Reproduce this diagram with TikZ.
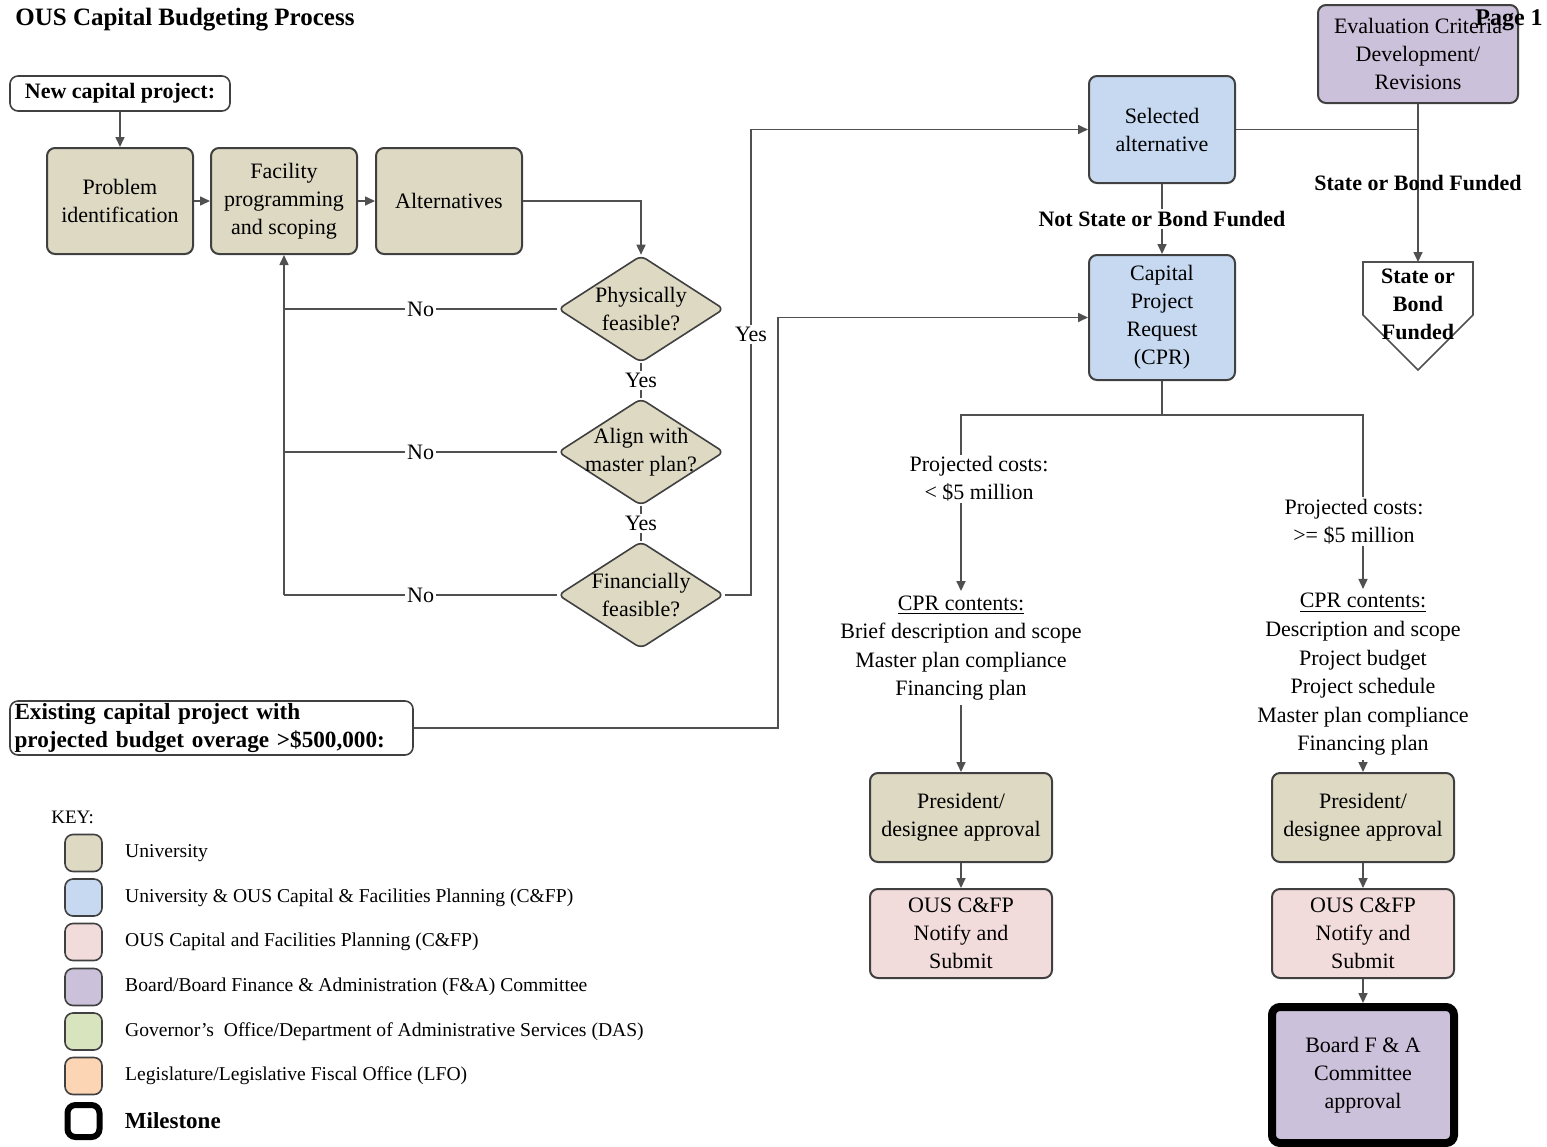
\documentclass[tikz,border=0pt]{standalone}
\usepackage{fontspec}
\setmainfont{Liberation Serif}
\usetikzlibrary{positioning, calc, shapes.geometric, arrows.meta}
\definecolor{univtan}{RGB}{221,217,195}
\definecolor{cfpblue}{RGB}{198,217,241}
\definecolor{cfppink}{RGB}{242,220,219}
\definecolor{boardpurple}{RGB}{204,193,218}
\definecolor{govgreen}{RGB}{215,228,189}
\definecolor{legorange}{RGB}{252,213,181}
\definecolor{edgegray}{RGB}{64,64,64}
\definecolor{linegray}{RGB}{80,80,80}

\begin{document}
\begin{tikzpicture}[
        x=0.5pt, y=-0.5pt,
        font=\fontsize{11}{14}\selectfont,
        box/.style={rectangle, draw=edgegray, line width=1pt, rounded corners=4pt, align=center, minimum width=73pt, minimum height=53pt, inner sep=1pt},
        univ/.style={box, fill=univtan},
        joint/.style={box, fill=cfpblue},
        ous/.style={box, fill=cfppink},
        board/.style={box, fill=boardpurple},
        decision/.style={diamond, draw=edgegray, line width=0.8pt, fill=univtan, minimum width=83pt, minimum height=53.5pt, inner sep=0pt, rounded corners=3pt},
        startbox/.style={rectangle, draw=edgegray, line width=0.8pt, rounded corners=4pt, fill=white, font=\fontsize{11}{14}\selectfont\bfseries, inner sep=1pt},
        line/.style={draw=linegray, line width=0.8pt},
        arrow/.style={line, -{Triangle[length=5pt, width=4.5pt]}},
        lbl/.style={fill=white, inner sep=1pt, align=center},
        boldlbl/.style={inner sep=1pt, align=center, font=\fontsize{11}{14}\selectfont\bfseries},
        keybox/.style={rectangle, draw=edgegray, line width=0.8pt, rounded corners=4pt, minimum size=18.5pt, inner sep=0pt},
        keytxt/.style={anchor=west, font=\fontsize{9.8}{11}\selectfont, inner sep=0pt}
    ]
        \useasboundingbox (0,0) rectangle (1547,1146);

        % Title
        \node[anchor=west, font=\fontsize{12.5}{14}\selectfont\bfseries, inner sep=0pt] (TITLE) at (15,20) {OUS Capital Budgeting Process};

        % New project path
        \node[startbox, minimum width=110pt, minimum height=17.5pt] (NEW_CAP) at (120,93.5) {New capital project:};
        \node[univ] (PROB_ID) at (120,201) {Problem\\identification};
        \node[univ] (FAC_PROG) at (284,201) {Facility\\programming\\and scoping};
        \node[univ] (ALTS) at (449,201) {Alternatives};

        % Decisions
        \node[decision, label={[align=center]center:{Physically\\feasible?}}] (PHYS) at (641,309) {};
        \node[decision, label={[align=center]center:{Align with\\master plan?}}] (ALIGN) at (641,452) {};
        \node[decision, label={[align=center]center:{Financially\\feasible?}}] (FIN) at (641,595) {};

        % Selection and request
        \node[joint, minimum height=53.5pt] (SEL_ALT) at (1162,129.5) {Selected\\alternative};
        \node[joint, minimum height=62.5pt] (CPR) at (1162,317.5) {Capital\\Project\\Request\\(CPR)};
        \node[board, minimum width=100pt, minimum height=49pt] (EVAL) at (1418,54) {Evaluation Criteria\\Development/\\Revisions};

        % Off-page connector
        \coordinate (SBF_TOP) at (1418,262);
        \draw[line, fill=white] (1363,262) -- (1473,262) -- (1473,315) -- (1418,370) -- (1363,315) -- cycle;
        \node[boldlbl] (SBF) at (1418,304) {State or\\Bond\\Funded};

        % Existing project
        \node[startbox, font=\fontsize{11.6}{14}\selectfont\bfseries, minimum width=201.5pt, minimum height=27pt, text width=197pt, align=left, inner ysep=0pt] (EXIST) at (211.5,728) {Existing capital project with\\projected budget overage >\$500,000:};

        % CPR contents
        \node[align=center, inner sep=2pt, font=\fontsize{11}{14.3}\selectfont] (LO_CONT) at (961,648) {\underline{CPR contents:}\\Brief description and scope\\Master plan compliance\\Financing plan};
        \node[align=center, inner sep=2pt, font=\fontsize{11}{14.3}\selectfont] (HI_CONT) at (1363,674.5) {\underline{CPR contents:}\\Description and scope\\Project budget\\Project schedule\\Master plan compliance\\Financing plan};

        % Approvals
        \node[univ, minimum width=91pt, minimum height=44.5pt] (LO_PRES) at (961,817.5) {President/\\designee approval};
        \node[ous, minimum width=91pt, minimum height=44.5pt] (LO_OUS) at (961,933.5) {OUS C\&FP\\Notify and\\Submit};
        \node[univ, minimum width=91pt, minimum height=44.5pt] (HI_PRES) at (1363,817.5) {President/\\designee approval};
        \node[ous, minimum width=91pt, minimum height=44.5pt] (HI_OUS) at (1363,933.5) {OUS C\&FP\\Notify and\\Submit};
        \node[board, draw=black, line width=4pt, minimum width=91pt, minimum height=68pt] (BOARD) at (1363,1075) {Board F \& A\\Committee\\approval};

        % Flow
        \draw[arrow] (NEW_CAP) -- (PROB_ID);
        \draw[arrow] (PROB_ID) -- (FAC_PROG);
        \draw[arrow] (FAC_PROG) -- (ALTS);
        \draw[arrow] (ALTS.east) -| (PHYS.north);
        \draw[line] (PHYS.south) -- node[lbl]{Yes} (ALIGN.north);
        \draw[line] (ALIGN.south) -- node[lbl]{Yes} (FIN.north);
        \draw[line] (PHYS.west) -- node[lbl]{No} (PHYS.west -| FAC_PROG.south);
        \draw[line] (ALIGN.west) -- node[lbl]{No} (ALIGN.west -| FAC_PROG.south);
        \draw[line] (FIN.west) -- node[lbl]{No} (FIN.west -| FAC_PROG.south);
        \draw[arrow] (FIN.west -| FAC_PROG.south) -- (FAC_PROG.south);

        \coordinate (YES_BEND) at (751,595);
        \draw[arrow] (FIN.east) -- (YES_BEND) |- node[lbl, pos=0.28]{Yes} (SEL_ALT.west);

        \draw[line] (SEL_ALT.east) -| (EVAL.south);
        \draw[arrow] (EVAL.south) -- node[boldlbl]{State or Bond Funded} (SBF_TOP);
        \draw[arrow] (SEL_ALT.south) -- node[lbl, font=\fontsize{11}{14}\selectfont\bfseries]{Not State or Bond Funded} (CPR.north);

        \coordinate (OVER_BEND) at (778,728);
        \draw[arrow] (EXIST.east) -- (OVER_BEND) |- (CPR.west);

        \coordinate (CPR_SPLIT) at (1162,415);
        \draw[line] (CPR.south) -- (CPR_SPLIT);
        \draw[arrow] (CPR_SPLIT) -| (LO_CONT.north);
        \draw[arrow] (CPR_SPLIT) -| (HI_CONT.north);
        \node[lbl] (LO_COST) at (979,479) {Projected costs:\\< \$5 million};
        \node[lbl] (HI_COST) at (1354,521.5) {Projected costs:\\>= \$5 million};

        \draw[arrow] (LO_CONT.south) -- (LO_PRES.north);
        \draw[arrow] (HI_CONT.south) -- (HI_PRES.north);
        \draw[arrow] (LO_PRES) -- (LO_OUS);
        \draw[arrow] (HI_PRES) -- (HI_OUS);
        \draw[arrow] (HI_OUS) -- (BOARD);

        % Page marker
        \node[boldlbl, font=\fontsize{12}{14}\selectfont\bfseries] (PAGE) at (1509,20) {Page 1};

        % Key
        \node[anchor=west, inner sep=0pt, font=\fontsize{9.5}{11}\selectfont] (KEY_HDR) at (51,817) {KEY:};
        \node[keybox, fill=univtan] (KEY_UNIV) at (83.5,853) {};
        \node[keytxt, right=11pt of KEY_UNIV] (KEY_UNIV_T) {University};
        \node[keybox, fill=cfpblue] (KEY_JOINT) at (83.5,897.5) {};
        \node[keytxt, right=11pt of KEY_JOINT] (KEY_JOINT_T) {University \& OUS Capital \& Facilities Planning (C\&FP)};
        \node[keybox, fill=cfppink] (KEY_OUS) at (83.5,942) {};
        \node[keytxt, right=11pt of KEY_OUS] (KEY_OUS_T) {OUS Capital and Facilities Planning (C\&FP)};
        \node[keybox, fill=boardpurple] (KEY_BOARD) at (83.5,987) {};
        \node[keytxt, right=11pt of KEY_BOARD] (KEY_BOARD_T) {Board/Board Finance \& Administration (F\&A) Committee};
        \node[keybox, fill=govgreen] (KEY_GOV) at (83.5,1031.5) {};
        \node[keytxt, right=11pt of KEY_GOV] (KEY_GOV_T) {Governor's\ \ Office/Department of Administrative Services (DAS)};
        \node[keybox, fill=legorange] (KEY_LEG) at (83.5,1076) {};
        \node[keytxt, right=11pt of KEY_LEG] (KEY_LEG_T) {Legislature/Legislative Fiscal Office (LFO)};
        \node[keybox, draw=black, line width=3pt, fill=white, minimum size=16pt] (KEY_MILE) at (83.5,1121) {};
        \node[keytxt, right=11pt of KEY_MILE, font=\fontsize{11.5}{13}\selectfont\bfseries] (KEY_MILE_T) {Milestone};
\end{tikzpicture}
\end{document}
